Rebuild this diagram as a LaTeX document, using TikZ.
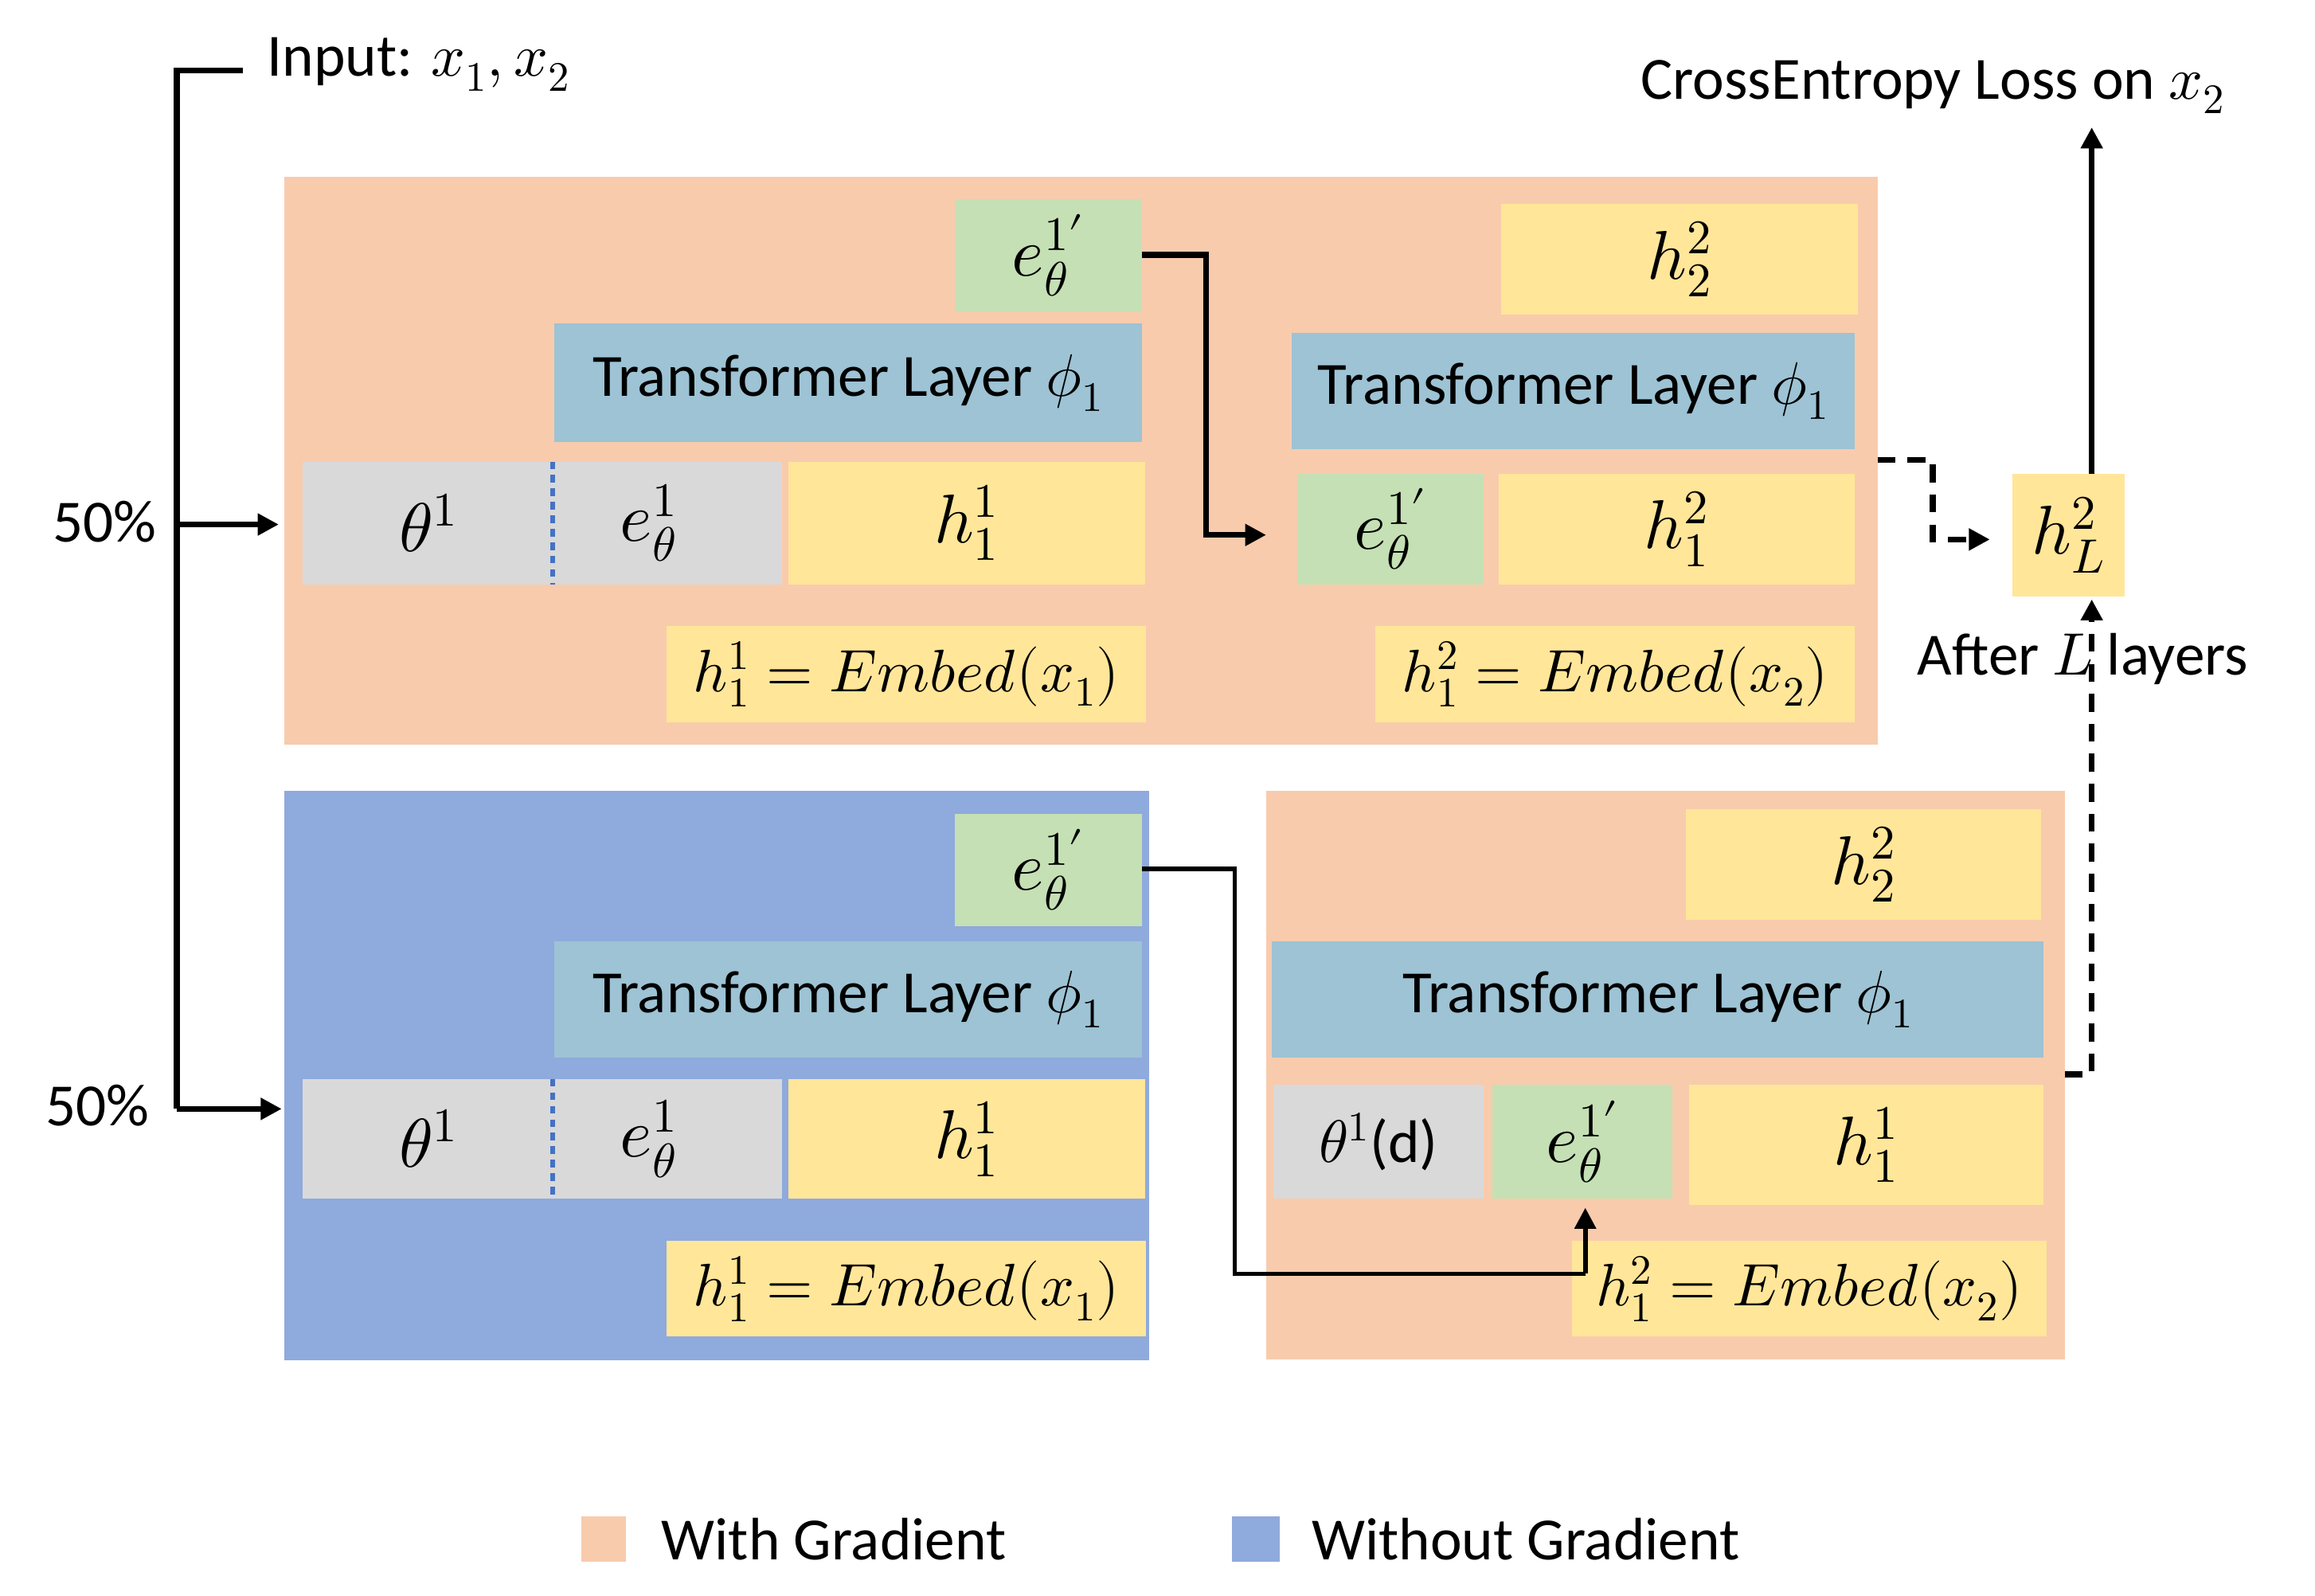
\documentclass[tikz,border=0pt]{standalone}
\usepackage{fontspec}
\usepackage{unicode-math}
\setmainfont{Carlito}
\setmathfont{Latin Modern Math}
\usetikzlibrary{arrows.meta}
\definecolor{org}{HTML}{F8CBAD}
\definecolor{blu}{HTML}{8FAADC}
\definecolor{grn}{HTML}{C5E0B4}
\definecolor{yel}{HTML}{FFE699}
\definecolor{tra}{HTML}{9DC3D4}
\definecolor{gry}{HTML}{D9D9D9}
\definecolor{dot}{HTML}{4472C4}
\begin{document}
\begin{tikzpicture}[x=1pt,y=-1pt,
  txt/.style={font=\fontsize{40}{46}\selectfont},
  big/.style={font=\fontsize{46}{52}\selectfont},
  emb/.style={font=\fontsize{40}{46}\selectfont},
  arr/.style={line width=4pt,-{Triangle[length=14pt,width=14pt]}},
  dsh/.style={dash pattern=on 12pt off 8pt},
  ln/.style={line width=4pt}]
\useasboundingbox (0,0) rectangle (1545,1065);
\fill[org] (190,118) rectangle (1253,497);
\fill[blu] (190,528) rectangle (767,908);
\fill[org] (845,528) rectangle (1378,907);
\newcommand{\bxx}[6]{\fill[#1] (#2,#3) rectangle (#4,#5); \node[#6] at ({(#2+#4)/2},{(#3+#5)/2})}
% top left
\bxx{grn}{637}{133}{762}{208}{big} (e1) {$e_\theta^{1\prime}$};
\bxx{tra}{370}{216}{762}{295}{txt} (t1) {Transformer Layer $\phi_1$};
\fill[gry] (202,308) rectangle (522,390);
\node[big] (th1) at (286,349) {$\theta^1$};
\node[big] (ea1) at (433,349) {$e_\theta^1$};
\draw[dot,line width=3pt,dash pattern=on 5pt off 4pt] (369,308) -- (369,390);
\bxx{yel}{526}{308}{764}{390}{big} (h1) {$h_1^1$};
\bxx{yel}{445}{418}{765}{482}{emb} (em1) {$h_1^1=Embed(x_1)$};
% top right
\bxx{yel}{1002}{136}{1240}{210}{big} (h22a) {$h_2^2$};
\bxx{tra}{862}{222}{1238}{300}{txt} (t2) {Transformer Layer $\phi_1$};
\bxx{grn}{866}{316}{990}{390}{big} (e2) {$e_\theta^{1\prime}$};
\bxx{yel}{1000}{316}{1238}{390}{big} (h12) {$h_1^2$};
\bxx{yel}{918}{418}{1238}{482}{emb} (em2) {$h_1^2=Embed(x_2)$};
% hL
\bxx{yel}{1343}{316}{1418}{398}{big} (hL) {$h_L^2$};
\node[txt] (ce) at (1290,58) {CrossEntropy Loss on $x_2$};
\node[txt] (al) at (1390,440) {After $L$ layers};
% bottom left
\bxx{grn}{637}{543}{762}{618}{big} (e3) {$e_\theta^{1\prime}$};
\bxx{tra}{370}{628}{762}{706}{txt} (t3) {Transformer Layer $\phi_1$};
\fill[gry] (202,720) rectangle (522,800);
\node[big] (th3) at (286,760) {$\theta^1$};
\node[big] (ea3) at (433,760) {$e_\theta^1$};
\draw[dot,line width=3pt,dash pattern=on 5pt off 4pt] (369,720) -- (369,800);
\bxx{yel}{526}{720}{764}{800}{big} (h3) {$h_1^1$};
\bxx{yel}{445}{828}{765}{892}{emb} (em3) {$h_1^1=Embed(x_1)$};
% bottom right
\bxx{yel}{1125}{540}{1362}{614}{big} (h22b) {$h_2^2$};
\bxx{tra}{849}{628}{1364}{706}{txt} (t4) {Transformer Layer $\phi_1$};
\bxx{gry}{850}{724}{990}{800}{txt} (thd) {$\theta^1$(d)};
\bxx{grn}{996}{724}{1116}{800}{big} (e4) {$e_\theta^{1\prime}$};
\bxx{yel}{1127}{724}{1364}{804}{big} (h4) {$h_1^1$};
\bxx{yel}{1049}{828}{1366}{892}{emb} (em4) {$h_1^2=Embed(x_2)$};
% connectors
\coordinate (a1) at (845,357);
\draw[arr] (762,170) -- (805,170) -- (805,357) -- (a1);
\draw[arr,dsh] (1253,307) -- (1290,307) -- (1290,360) -- (1328,360);
\draw[arr] (1396,316) -- (1396,85);
\draw[arr,dsh] (1378,717) -- (1396,717) -- (1396,400);
\draw[line width=3pt] (762,580) -- (824,580) -- (824,850) -- (1058,850);
\draw[arr,line width=3pt] (1058,850) -- (1058,806);
% input
\node[txt,anchor=west] (in) at (175,43) {Input: $x_1,x_2$};
\draw[ln] (162,47) -- (118,47) -- (118,740);
\draw[arr] (118,740) -- (188,740);
\draw[arr] (118,350) -- (186,350);
\node[txt] (p1) at (70,348) {50\%};
\node[txt] (p2) at (65,738) {50\%};
% legend
\fill[org] (388,1012) rectangle (418,1042);
\node[txt,anchor=west] (lg1) at (438,1027) {With Gradient};
\fill[blu] (822,1012) rectangle (854,1042);
\node[txt,anchor=west] (lg2) at (872,1027) {Without Gradient};
\end{tikzpicture}
\end{document}
